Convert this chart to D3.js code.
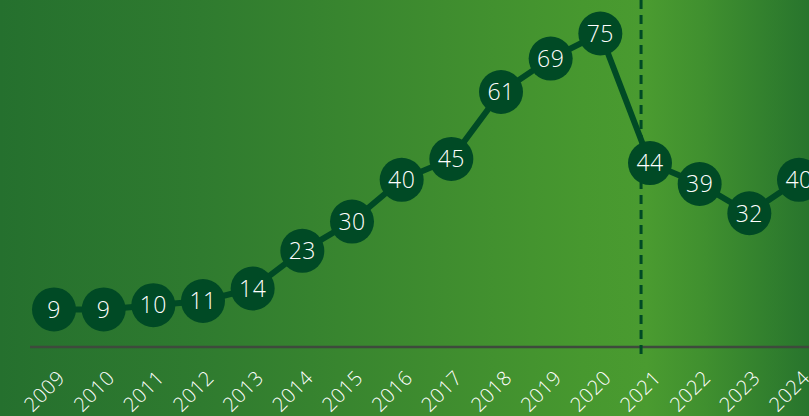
<!DOCTYPE html>
<html>
<head>
<meta charset="utf-8">
<script src="https://cdn.jsdelivr.net/npm/d3@7"></script>
<style>
  html, body { margin: 0; padding: 0; overflow: hidden; }
  svg { display: block; }
</style>
</head>
<body>
<svg id="chart"></svg>
<script>
// values
var years = [2009, 2010, 2011, 2012, 2013, 2014, 2015, 2016, 2017, 2018, 2019, 2020, 2021, 2022, 2023, 2024]
var counts = [9, 9, 10, 11, 14, 23, 30, 40, 45, 61, 69, 75, 44, 39, 32, 40]
var markerYear = 2020.82   // dashed separator sits just left of 2021

var width = 809
var height = 416

var svg = d3.select("#chart")
            .attr("width", width)
            .attr("height", height)

// background gradient
var defs = svg.append("defs")
var grad = defs.append("linearGradient")
               .attr("id", "bg")
               .attr("x1", "0%").attr("x2", "100%")
               .attr("y1", "0%").attr("y2", "0%")
var stops = [[0, "#25702e"], [0.25, "#2f7b2f"], [0.55, "#3f8d2f"], [0.72, "#47982f"], [0.8, "#4a9b30"], [0.87, "#40902f"], [1, "#28752d"]]
stops.forEach(function(s) {
    grad.append("stop").attr("offset", s[0]).attr("stop-color", s[1])
})
svg.append("rect")
   .attr("width", width)
   .attr("height", height)
   .attr("fill", "url(#bg)")

var x = d3.scaleLinear()
          .domain([2009, 2024])
          .range([54, 799])

var y = d3.scaleLinear()
          .domain([0, 80])
          .range([347, 12.6])

var dark = "#004a25"
var font = "'Open Sans', sans-serif"

// baseline
svg.append("line")
   .attr("x1", 30).attr("x2", width)
   .attr("y1", y(0)).attr("y2", y(0))
   .attr("stroke", "#3e4a3c")
   .attr("stroke-width", 2.5)

// dashed vertical marker
svg.append("line")
   .attr("x1", x(markerYear)).attr("x2", x(markerYear))
   .attr("y1", 0).attr("y2", y(0) + 11)
   .attr("stroke", dark)
   .attr("stroke-width", 3)
   .attr("stroke-dasharray", "9,6")

// line
var line = d3.line()
             .x(function(d, i) { return x(years[i]) })
             .y(function(d) { return y(d) })

svg.append("path")
   .datum(counts)
   .attr("d", line)
   .attr("fill", "none")
   .attr("stroke", dark)
   .attr("stroke-width", 6)

var points = svg.selectAll(".pt")
                .data(counts)
                .enter()
                .append("g")
                .attr("class", "pt")
                .attr("transform", function(d, i) {
                    return "translate(" + x(years[i]) + "," + y(d) + ")"
                })

points.append("circle")
      .attr("r", 22)
      .attr("fill", dark)

points.append("text")
      .attr("text-anchor", "middle")
      .attr("dy", "0.36em")
      .attr("fill", "#ffffff")
      .attr("font-family", font)
      .attr("font-weight", 300)
      .attr("font-size", 23)
      .attr("letter-spacing", 0.5)
      .text(function(d) { return d })

// rotated year labels
svg.selectAll(".yr")
   .data(years)
   .enter()
   .append("text")
   .attr("class", "yr")
   .attr("transform", function(d) {
       return "translate(" + (x(d) + 2) + "," + 369 + ") rotate(-45)"
   })
   .attr("text-anchor", "end")
   .attr("dy", "0.72em")
   .attr("fill", "#ffffff")
   .attr("font-family", font)
   .attr("font-weight", 300)
   .attr("font-size", 20)
   .attr("letter-spacing", 0.5)
   .text(function(d) { return d })
</script>
</body>
</html>
